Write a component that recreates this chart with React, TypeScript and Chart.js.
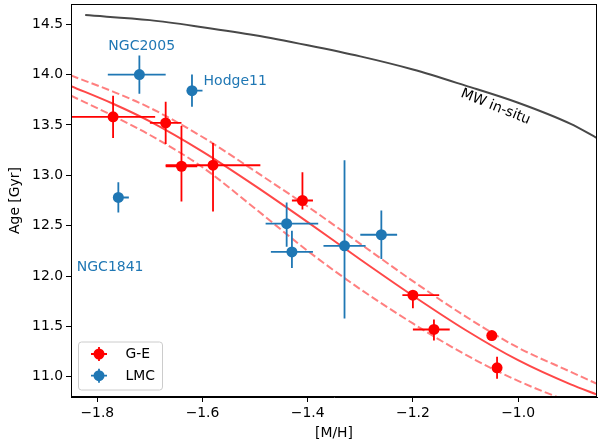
import React, { useEffect, useRef } from "react";
import { Chart, registerables } from "chart.js";
Chart.register(...registerables);

const FONT = '"DejaVu Sans", "Liberation Sans", sans-serif';

// axis ticks
const xTicks = [-1.8, -1.6, -1.4, -1.2, -1.0];
const yTicks = [11.0, 11.5, 12.0, 12.5, 13.0, 13.5, 14.0, 14.5];

// G-E clusters
const geMH = [-1.77, -1.67, -1.64, -1.58, -1.41, -1.2, -1.16, -1.05, -1.04];
const geAge = [13.58, 13.52, 13.09, 13.1, 12.75, 11.81, 11.47, 11.41, 11.09];
const geXErrLo = [0.08, 0.03, 0.03, 0.09, 0.02, 0.02, 0.04, 0.0, 0.0];
const geXErrHi = [0.08, 0.03, 0.03, 0.09, 0.02, 0.05, 0.03, 0.0, 0.0];
const geYErrLo = [0.21, 0.21, 0.35, 0.46, 0.09, 0.13, 0.11, 0.05, 0.11];
const geYErrHi = [0.21, 0.21, 0.4, 0.22, 0.28, 0.04, 0.1, 0.0, 0.11];

// LMC clusters
const lmcMH = [-1.72, -1.62, -1.76, -1.44, -1.43, -1.33, -1.26];
const lmcAge = [14.0, 13.84, 12.78, 12.52, 12.24, 12.3, 12.41];
const lmcXErrLo = [0.06, 0.01, 0.01, 0.04, 0.04, 0.04, 0.04];
const lmcXErrHi = [0.05, 0.02, 0.02, 0.06, 0.04, 0.04, 0.03];
const lmcYErrLo = [0.19, 0.16, 0.15, 0.23, 0.16, 0.72, 0.24];
const lmcYErrHi = [0.19, 0.16, 0.15, 0.21, 0.21, 0.85, 0.24];

// MW in-situ relation
const mwMH = [-1.823, -1.7, -1.6, -1.5, -1.4, -1.3, -1.2, -1.1, -1.0, -0.9, -0.85];
const mwAge = [14.59, 14.54, 14.47, 14.39, 14.29, 14.18, 14.05, 13.89, 13.72, 13.51, 13.37];

// G-E fit and its band
const fitMH = [-1.85, -1.77, -1.7, -1.6, -1.5, -1.4, -1.3, -1.2, -1.1, -1.0, -0.9, -0.85];
const fitAge = [13.885, 13.71, 13.535, 13.235, 12.895, 12.535, 12.165, 11.805, 11.465, 11.165, 10.925, 10.825];
const fitUpMH = [-1.85, -1.77, -1.7, -1.6, -1.5, -1.4, -1.3, -1.2, -1.1, -1.0, -0.9, -0.85];
const fitUpAge = [13.99, 13.83, 13.67, 13.38, 13.04, 12.69, 12.32, 11.95, 11.6, 11.29, 11.05, 10.93];
const fitLoMH = [-1.85, -1.77, -1.7, -1.6, -1.5, -1.4, -1.3, -1.2, -1.1, -1.0, -0.9, -0.85];
const fitLoAge = [13.79, 13.59, 13.4, 13.08, 12.67, 12.25, 11.87, 11.53, 11.22, 10.96, 10.75, 10.66];

// text labels (anchor in data units)
const labelText = ["NGC2005", "Hodge11", "NGC1841"];
const labelMH = [-1.779, -1.598, -1.839];
const labelAge = [14.24, 13.9, 12.05];
const mwLabel = "MW in-situ";
const mwLabelMH = -1.043;
const mwLabelAge = 13.678;

const legendNames = ["G-E", "LMC"];

const RED = "#ff0000";
const BLUE = "#1f77b4";

const pts = (xs: number[], ys: number[]) => xs.map((x, i) => ({ x, y: ys[i] }));
const fmt = (v: number) => (v < 0 ? "\u2212" : "") + Math.abs(v).toFixed(1);

const errorBarPlugin = {
  id: "errbars",
  beforeDatasetDraw(chart: any, args: any) {
    const ds = chart.data.datasets[args.index];
    if (!ds.err) return;
    const { ctx, chartArea: a } = chart;
    const x = chart.scales.x;
    const y = chart.scales.y;
    ctx.save();
    ctx.beginPath();
    ctx.rect(a.left, a.top, a.right - a.left, a.bottom - a.top);
    ctx.clip();
    ctx.strokeStyle = ds.errColor;
    ctx.lineWidth = 1.8;
    ds.data.forEach((p: any, i: number) => {
      const px = x.getPixelForValue(p.x);
      const py = y.getPixelForValue(p.y);
      ctx.beginPath();
      ctx.moveTo(x.getPixelForValue(p.x - ds.err.xlo[i]), py);
      ctx.lineTo(x.getPixelForValue(p.x + ds.err.xhi[i]), py);
      ctx.moveTo(px, y.getPixelForValue(p.y + ds.err.yhi[i]));
      ctx.lineTo(px, y.getPixelForValue(p.y - ds.err.ylo[i]));
      ctx.stroke();
    });
    ctx.restore();
  },
};

const decorPlugin = {
  id: "decor",
  afterDraw(chart: any) {
    const { ctx, chartArea: a } = chart;
    const x = chart.scales.x;
    const y = chart.scales.y;
    ctx.save();
    // frame
    ctx.strokeStyle = "#000";
    ctx.lineWidth = 1;
    ctx.strokeRect(a.left + 0.5, a.top + 0.5, a.right - a.left - 1, a.bottom - a.top - 1);

    // labels
    ctx.font = `14px ${FONT}`;
    ctx.fillStyle = BLUE;
    ctx.textAlign = "left";
    ctx.textBaseline = "alphabetic";
    labelText.forEach((t, i) => {
      ctx.fillText(t, x.getPixelForValue(labelMH[i]), y.getPixelForValue(labelAge[i]));
    });
    ctx.save();
    ctx.translate(x.getPixelForValue(mwLabelMH), y.getPixelForValue(mwLabelAge));
    ctx.rotate((22 * Math.PI) / 180);
    ctx.fillStyle = "#000";
    ctx.textAlign = "center";
    ctx.textBaseline = "middle";
    ctx.fillText(mwLabel, 0, 0);
    ctx.restore();

    // legend
    const lx = 78.5, ly = 342, lw = 84, lh = 48, r = 3;
    ctx.beginPath();
    ctx.moveTo(lx + r, ly);
    ctx.arcTo(lx + lw, ly, lx + lw, ly + lh, r);
    ctx.arcTo(lx + lw, ly + lh, lx, ly + lh, r);
    ctx.arcTo(lx, ly + lh, lx, ly, r);
    ctx.arcTo(lx, ly, lx + lw, ly, r);
    ctx.closePath();
    ctx.fillStyle = "rgba(255,255,255,0.8)";
    ctx.fill();
    ctx.strokeStyle = "#cccccc";
    ctx.lineWidth = 1;
    ctx.stroke();
    const cols = [RED, BLUE];
    legendNames.forEach((n, i) => {
      const cy = 354 + i * 21.7;
      const cx = 99;
      ctx.strokeStyle = cols[i];
      ctx.lineWidth = 1.8;
      ctx.beginPath();
      ctx.moveTo(cx - 8, cy);
      ctx.lineTo(cx + 8, cy);
      ctx.moveTo(cx, cy - 7);
      ctx.lineTo(cx, cy + 7);
      ctx.stroke();
      ctx.fillStyle = cols[i];
      ctx.beginPath();
      ctx.arc(cx, cy, 5.5, 0, Math.PI * 2);
      ctx.fill();
      ctx.fillStyle = "#000";
      ctx.font = `13.9px ${FONT}`;
      ctx.textAlign = "left";
      ctx.textBaseline = "middle";
      ctx.fillText(n, 125.5, cy + 0.5);
    });
    ctx.restore();
  },
};

export default function App() {
  const ref = useRef<HTMLCanvasElement>(null);
  useEffect(() => {
    if (!ref.current) return;
    const lineDs = (label: string, xs: number[], ys: number[], color: string, dash: number[], order: number) => ({
      label,
      data: pts(xs, ys),
      showLine: true,
      borderColor: color,
      borderWidth: 2,
      borderDash: dash,
      pointRadius: 0,
      pointHoverRadius: 0,
      cubicInterpolationMode: "monotone",
      fill: false,
      order,
    });
    const chart = new Chart(ref.current, {
      type: "scatter",
      data: {
        datasets: [
          {
            label: "G-E",
            data: pts(geMH, geAge),
            backgroundColor: RED,
            borderWidth: 0,
            pointRadius: 5.5,
            pointHoverRadius: 5.5,
            order: 0,
            err: { xlo: geXErrLo, xhi: geXErrHi, ylo: geYErrLo, yhi: geYErrHi },
            errColor: RED,
          } as any,
          {
            label: "LMC",
            data: pts(lmcMH, lmcAge),
            backgroundColor: BLUE,
            borderWidth: 0,
            pointRadius: 5.5,
            pointHoverRadius: 5.5,
            order: 1,
            err: { xlo: lmcXErrLo, xhi: lmcXErrHi, ylo: lmcYErrLo, yhi: lmcYErrHi },
            errColor: BLUE,
          } as any,
          lineDs("fit", fitMH, fitAge, "rgba(255,0,0,0.72)", [], 2) as any,
          lineDs("fit+", fitUpMH, fitUpAge, "rgba(255,0,0,0.5)", [7.7, 3.3], 3) as any,
          lineDs("fit-", fitLoMH, fitLoAge, "rgba(255,0,0,0.5)", [7.7, 3.3], 4) as any,
          lineDs("MW", mwMH, mwAge, "#484848", [], 5) as any,
        ],
      },
      options: {
        animation: false,
        responsive: false,
        events: [],
        layout: { autoPadding: false, padding: { top: 4, right: 1, left: 0, bottom: 0 } },
        plugins: { legend: { display: false }, tooltip: { enabled: false } },
        scales: {
          x: {
            type: "linear",
            min: -1.85,
            max: -0.85,
            afterBuildTicks: (s: any) => {
              s.ticks = xTicks.map((v) => ({ value: v }));
            },
            afterFit: (s: any) => {
              s.height = 51;
              s.paddingLeft = 0;
              s.paddingRight = 0;
            },
            grid: { display: true, drawOnChartArea: false, drawTicks: true, tickLength: 5, color: "#000", lineWidth: 1 },
            border: { display: true, color: "#000", width: 1 },
            ticks: { color: "#000", font: { family: FONT, size: 13.9 }, padding: 3, maxRotation: 0, callback: (v: any) => fmt(Number(v)) },
            title: { display: true, text: "[M/H]", color: "#000", font: { family: FONT, size: 13.9 }, padding: { top: 0, bottom: 6.6 } },
          },
          y: {
            type: "linear",
            min: 10.8,
            max: 14.7,
            afterBuildTicks: (s: any) => {
              s.ticks = yTicks.map((v) => ({ value: v }));
            },
            afterFit: (s: any) => {
              s.width = 71;
              s.paddingTop = 0;
              s.paddingBottom = 0;
            },
            grid: { display: true, drawOnChartArea: false, drawTicks: true, tickLength: 5, color: "#000", lineWidth: 1 },
            border: { display: true, color: "#000", width: 1 },
            ticks: { color: "#000", font: { family: FONT, size: 13.9 }, padding: 3, callback: (v: any) => Number(v).toFixed(1) },
            title: { display: true, text: "Age [Gyr]", color: "#000", font: { family: FONT, size: 13.9 }, padding: { top: 7.5, bottom: 0 } },
          },
        },
      } as any,
      plugins: [errorBarPlugin, decorPlugin],
    });
    return () => chart.destroy();
  }, []);
  return (
    <canvas
      ref={ref}
      width={598}
      height={448}
      style={{ position: "absolute", left: 0, top: 0, width: 598, height: 448 }}
    />
  );
}
